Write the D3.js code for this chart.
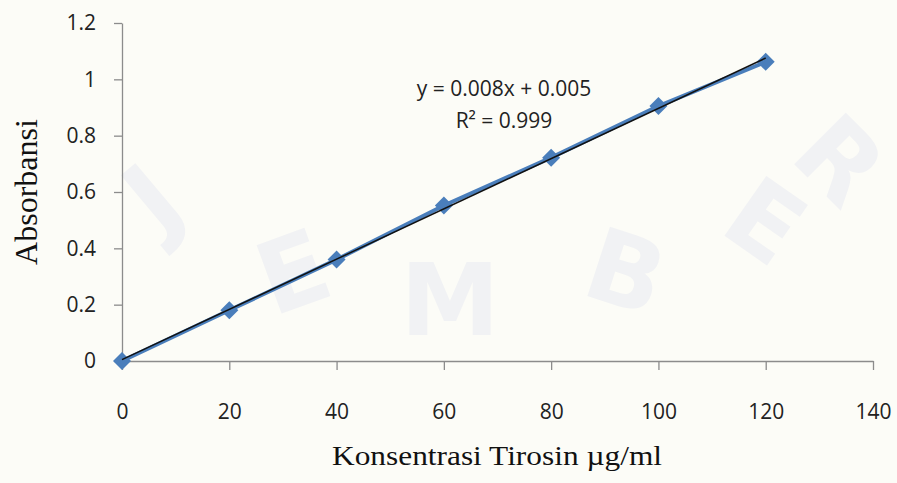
<!DOCTYPE html>
<html>
<head>
<meta charset="utf-8">
<script src="https://cdn.jsdelivr.net/npm/d3@7"></script>
<style>
  body { margin: 0; background: #fcfcf7; }
  #chart svg { display: block; }
</style>
</head>
<body>
<div id="chart"></div>
<script>
var w = 897;
var h = 483;
var margin = { top: 23, right: 24, bottom: 122, left: 122 };

var width = w - margin.left - margin.right;
var height = h - margin.top - margin.bottom;

// Data
var concentration = [0, 20, 40, 60, 80, 100, 120];
var absorbance = [0, 0.18, 0.36, 0.552, 0.722, 0.905, 1.062];
var xTicks = [0, 20, 40, 60, 80, 100, 120, 140];
var yTicks = [0, 0.2, 0.4, 0.6, 0.8, 1, 1.2];
var equationLines = ["y = 0.008x + 0.005", "R\u00B2 = 0.999"];
var watermarkLetters = ["J", "E", "M", "B", "E", "R"];

var dataset = concentration.map(function(c, i) {
    return { x: c, y: absorbance[i] };
});

// Least squares trendline from the data
var mx = d3.mean(dataset, function(d) { return d.x; });
var my = d3.mean(dataset, function(d) { return d.y; });
var slope = d3.sum(dataset, function(d) { return (d.x - mx) * (d.y - my); }) /
            d3.sum(dataset, function(d) { return (d.x - mx) * (d.x - mx); });
var intercept = my - slope * mx;

var xScale = d3.scaleLinear().domain([0, 140]).range([0, width]);
var yScale = d3.scaleLinear().domain([0, 1.2]).range([height, 0]);

var root = d3.select("#chart")
    .append("svg")
    .attr("width", w)
    .attr("height", h);

root.append("rect")
    .attr("width", w)
    .attr("height", h)
    .attr("fill", "#fcfcf7");

// very faint watermark
var wm = root.append("g").attr("fill", "#f1f2f4");
var wmPos = [[175, 225, -40], [305, 305, -20], [450, 335, 0], [615, 305, 18], [745, 250, 35], [815, 185, 45]];
wm.selectAll("text")
    .data(watermarkLetters)
    .enter()
    .append("text")
    .attr("transform", function(d, i) {
        return "translate(" + wmPos[i][0] + "," + wmPos[i][1] + ") rotate(" + wmPos[i][2] + ")";
    })
    .attr("text-anchor", "middle")
    .style("font-family", "'DejaVu Sans', sans-serif")
    .style("font-weight", "bold")
    .style("font-size", "100px")
    .text(function(d) { return d; });

var svg = root.append("g")
    .attr("transform", "translate(" + margin.left + "," + margin.top + ")");

// x axis
var xAxis = svg.append("g")
    .attr("transform", "translate(0," + height + ")")
    .call(d3.axisBottom(xScale).tickValues(xTicks).tickSize(9).tickPadding(34).tickSizeOuter(0));

// y axis
var yAxis = svg.append("g")
    .call(d3.axisLeft(yScale).tickValues(yTicks).tickSize(8).tickPadding(18).tickSizeOuter(0)
        .tickFormat(function(d) { return String(d); }));

[xAxis, yAxis].forEach(function(a) {
    a.select(".domain").attr("stroke", "#8c8c8c").attr("stroke-width", 1.3);
    a.selectAll(".tick line").attr("stroke", "#8c8c8c").attr("stroke-width", 1.3);
    a.selectAll(".tick text")
        .attr("fill", "#222")
        .style("font-family", "'Open Sans', sans-serif")
        .style("font-size", "21px");
});

// series line
var line = d3.line()
    .x(function(d) { return xScale(d.x); })
    .y(function(d) { return yScale(d.y); });

svg.append("path")
    .datum(dataset)
    .attr("d", line)
    .style("fill", "none")
    .style("stroke", "#4a7ebb")
    .style("stroke-width", 4);

// diamond markers
svg.selectAll(".marker")
    .data(dataset)
    .enter()
    .append("path")
    .attr("class", "marker")
    .attr("transform", function(d) { return "translate(" + xScale(d.x) + "," + yScale(d.y) + ")"; })
    .attr("d", "M0,-9L9,0L0,9L-9,0Z")
    .attr("fill", "#4a7ebb");

// trendline
svg.append("line")
    .attr("x1", xScale(0))
    .attr("y1", yScale(intercept))
    .attr("x2", xScale(120))
    .attr("y2", yScale(intercept + slope * 120))
    .attr("stroke", "#111")
    .attr("stroke-width", 1.5);

// equation
root.selectAll(".eq")
    .data(equationLines)
    .enter()
    .append("text")
    .attr("class", "eq")
    .attr("x", 504)
    .attr("y", function(d, i) { return 96 + i * 32; })
    .attr("text-anchor", "middle")
    .attr("fill", "#222")
    .style("font-family", "'Open Sans', sans-serif")
    .style("font-size", "21px")
    .text(function(d) { return d; });

// axis titles
root.append("text")
    .attr("x", 332)
    .attr("y", 465)
    .attr("textLength", 330)
    .attr("lengthAdjust", "spacingAndGlyphs")
    .attr("fill", "#111")
    .style("font-family", "'Liberation Serif', 'Times New Roman', serif")
    .style("font-size", "27px")
    .text("Konsentrasi Tirosin \u00B5g/ml");

root.append("text")
    .attr("transform", "translate(37,192) rotate(-90)")
    .attr("text-anchor", "middle")
    .attr("fill", "#111")
    .style("font-family", "'Liberation Serif', 'Times New Roman', serif")
    .style("font-size", "32px")
    .text("Absorbansi");
</script>
</body>
</html>
